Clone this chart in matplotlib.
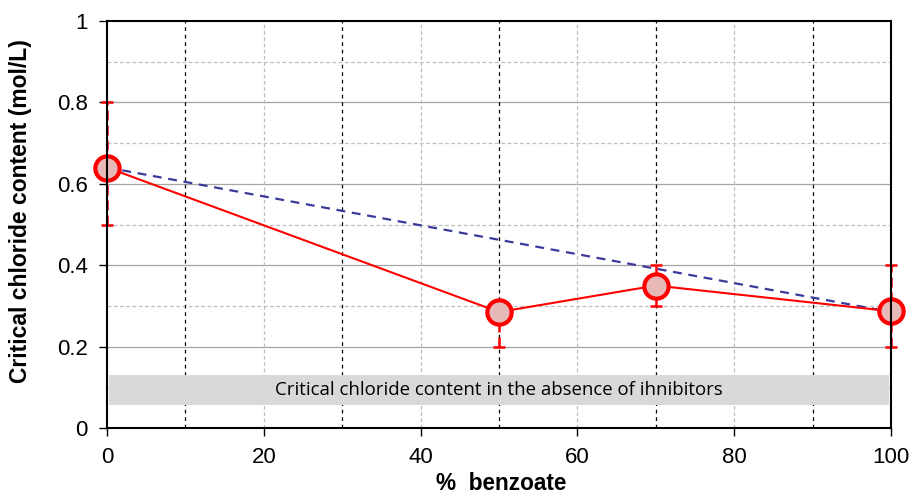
import matplotlib
matplotlib.use("Agg")
import matplotlib.pyplot as plt
import numpy as np

benzoate = [0, 50, 70, 100]
ccc = [0.64, 0.285, 0.35, 0.287]
err_low = [0.14, 0.085, 0.05, 0.087]
err_high = [0.16, 0.0, 0.05, 0.113]
mix_x = [0, 100]
mix_y = [0.64, 0.285]
band_low, band_high = 0.057, 0.130
band_text = "Critical chloride content in the absence of ihnibitors"
xticks = [0, 20, 40, 60, 80, 100]
yticks = [0, 0.2, 0.4, 0.6, 0.8, 1.0]
yticklabels = ["0", "0.2", "0.4", "0.6", "0.8", "1"]

plt.rcParams["font.family"] = ["Liberation Sans", "DejaVu Sans"]

fig = plt.figure(figsize=(9.09, 4.93), dpi=100)
ax = fig.add_axes([107/909, 1 - 428/493, (891-107)/909, (428-21)/493])
ax.set_xlim(0, 100)
ax.set_ylim(0, 1)

# grid
for y in [0.2, 0.4, 0.6, 0.8]:
    ax.axhline(y, color="#a6a6a6", lw=0.9, zorder=0)
for y in [0.1, 0.3, 0.5, 0.7, 0.9]:
    ax.axhline(y, color="#bfbfbf", lw=0.9, ls=(0, (3, 2)), zorder=0)
for x in [10, 30, 50, 70, 90]:
    ax.axvline(x, color="black", lw=0.9, ls=(0, (3, 3)), zorder=0)
for x in [20, 40, 60, 80]:
    ax.axvline(x, color="#bfbfbf", lw=0.9, ls=(0, (3, 2)), zorder=0)

# band
ax.fill_between([0.2, 99.8], band_low, band_high, color="#d9d9d9", zorder=1, lw=0)
ax.text(50, (band_low + band_high) / 2, band_text, ha="center", va="center",
        fontsize=13.4, family="Open Sans", zorder=2)

# mixture line
ax.plot(mix_x, mix_y, color="#3a3a9a", lw=1.6, ls=(0, (4, 3)), zorder=3)

# error bars
eb = ax.errorbar(benzoate, ccc, yerr=[err_low, err_high], fmt="none",
                 ecolor="red", elinewidth=1.8, capsize=4, capthick=1.8, zorder=3)
for lc in eb[2]:
    lc.set_linestyle((0, (4, 2)))
    lc.set_clip_on(False)
for cl in eb[1]:
    cl.set_clip_on(False)

ax.plot(benzoate, ccc, color="red", lw=1.5, marker="o", ms=17.5,
        mfc="#e6b9b8", mec="red", mew=3, zorder=4, clip_on=False)

for s in ax.spines.values():
    s.set_color("black")
    s.set_linewidth(1.5)
    s.set_zorder(5)

ax.set_xticks(xticks)
ax.set_yticks(yticks)
ax.set_yticklabels(yticklabels)
ax.tick_params(axis="both", direction="out", length=6, width=1, labelsize=16,
               colors="black")
ax.tick_params(axis="x", pad=8)
ax.tick_params(axis="y", pad=8)

fig.text(501/909, 1 - 483/493, "%  benzoate", fontsize=16.3, fontweight="bold",
         ha="center", va="center")
fig.text(21/909, 1 - 211/493, "Critical chloride content (mol/L)", fontsize=16.5,
         fontweight="bold", ha="center", va="center", rotation=90)

fig.savefig("out.png", dpi=100)
